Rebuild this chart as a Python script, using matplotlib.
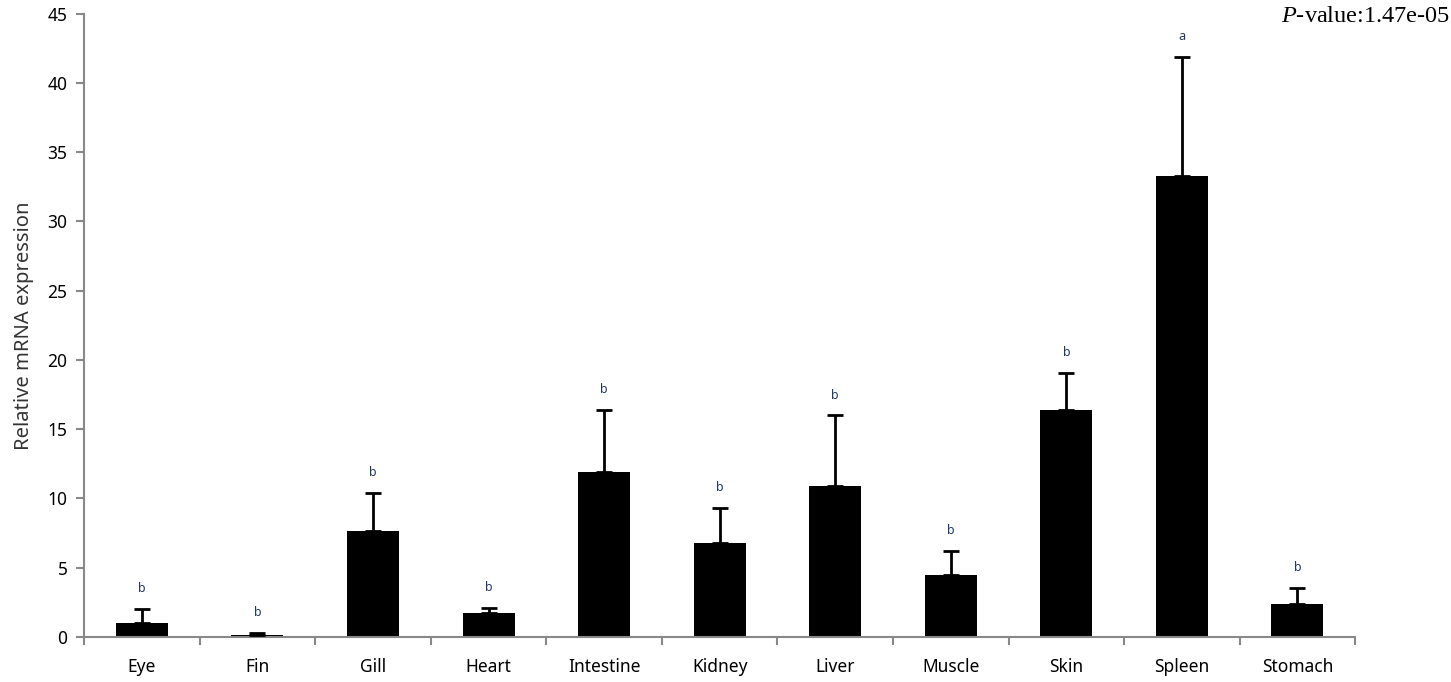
import matplotlib.pyplot as plt
import numpy as np

tissues = ["Eye", "Fin", "Gill", "Heart", "Intestine", "Kidney",
           "Liver", "Muscle", "Skin", "Spleen", "Stomach"]
means = [1.0, 0.15, 7.65, 1.7, 11.9, 6.8, 10.9, 4.5, 16.4, 33.3, 2.4]
errs = [1.05, 0.15, 2.75, 0.4, 4.5, 2.5, 5.1, 1.7, 2.65, 8.6, 1.15]
letters = ["b", "b", "b", "b", "b", "b", "b", "b", "b", "a", "b"]

plt.rcParams["mathtext.fontset"] = "custom"
plt.rcParams["mathtext.rm"] = "Liberation Serif"
plt.rcParams["mathtext.it"] = "Liberation Serif:italic"

fig = plt.figure(figsize=(14.51, 6.82), dpi=100)
ax = fig.add_axes([0.058, 0.066, 0.876, 0.914])

x = np.arange(len(tissues))
ax.bar(x, means, width=0.45, color="black", zorder=2)
ax.errorbar(x, means, yerr=[np.zeros(len(errs)), errs], fmt="none",
            ecolor="black", elinewidth=2, capsize=6, capthick=2, zorder=3)

for xi, m, e, lab in zip(x, means, errs, letters):
    ax.text(xi, m + e + 1.0, lab, ha="center", va="bottom",
            fontsize=9, color="#1f3864", family="Noto Sans")

ax.set_xlim(-0.5, len(tissues) - 0.5)
ax.set_ylim(0, 45)
ax.set_yticks(range(0, 46, 5))
ax.set_xticks(x)
ax.set_xticklabels(tissues, fontsize=12.5, family="Noto Sans")
ax.set_xticks(np.arange(-0.5, len(tissues)), minor=True)
ax.tick_params(axis="x", which="major", length=0, pad=15)
ax.tick_params(axis="x", which="minor", length=6, width=1.5, color="#888888",
               direction="out")
ax.tick_params(axis="y", length=6, width=1.5, color="#888888", labelsize=12.5,
               pad=6)
for lbl in ax.get_yticklabels():
    lbl.set_family("Noto Sans")

for side in ["top", "right"]:
    ax.spines[side].set_visible(False)
for side in ["left", "bottom"]:
    ax.spines[side].set_color("#888888")
    ax.spines[side].set_linewidth(1.5)

ax.set_ylabel("Relative mRNA expression", fontsize=14.5, family="Noto Sans",
              color="#333333", labelpad=10)

fig.text(0.999, 0.976, r"$\it{P}$-value:1.47e-05", ha="right", va="center",
         fontsize=17.5, family="Liberation Serif")

fig.savefig("out.png", dpi=100)
